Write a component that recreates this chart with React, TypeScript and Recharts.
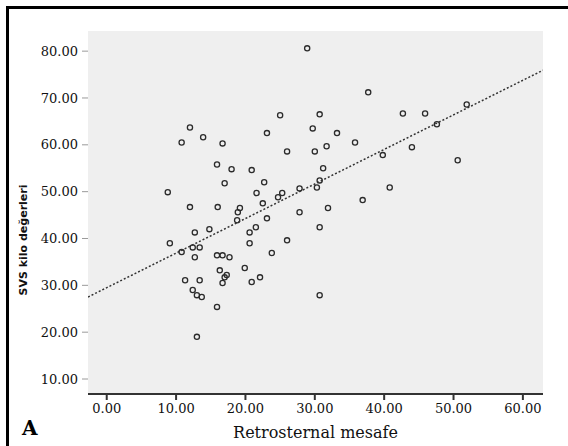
import { ScatterChart, Scatter, XAxis, YAxis, CartesianGrid, Label } from 'recharts';

// Retrosternal mesafe (x) and matching SVS values (y), one entry per subject
const retrosternal = [
  28.9, 37.7, 51.9, 42.7, 45.9, 47.6, 44.0, 39.8, 50.6, 40.8, 36.9, 25.0, 30.7,
  12.0, 13.9, 16.7, 10.8, 23.1, 29.7, 33.2, 35.8, 26.0, 30.0, 31.7, 15.9, 18.0,
  20.9, 31.2, 17.0, 22.7, 25.3, 30.7, 21.6, 8.8, 12.0, 16.0, 18.9, 24.7, 27.8,
  30.3, 31.9, 19.2, 22.5, 23.1, 27.8, 30.7, 18.8, 20.6, 20.6, 26.0, 23.8, 16.7,
  17.7, 16.3, 17.0, 19.9, 16.7, 20.9, 22.1, 13.4, 13.0, 13.7, 15.9, 13.0, 30.7,
  9.1, 10.8, 12.4, 12.7, 11.3, 12.4, 13.4, 15.9, 17.3, 12.7, 14.8, 21.5,
];
const svsValues = [
  80.6, 71.2, 68.6, 66.7, 66.7, 64.4, 59.5, 57.8, 56.7, 50.9, 48.2, 66.3, 66.5,
  63.7, 61.6, 60.3, 60.5, 62.5, 63.5, 62.5, 60.5, 58.6, 58.6, 59.7, 55.8, 54.8,
  54.6, 55.0, 51.8, 52.0, 49.7, 52.4, 49.7, 49.9, 46.7, 46.7, 45.6, 48.8, 50.7,
  50.9, 46.5, 46.5, 47.5, 44.3, 45.6, 42.4, 43.9, 41.3, 39.0, 39.6, 36.9, 36.4,
  36.0, 33.2, 31.7, 33.7, 30.5, 30.7, 31.7, 31.1, 27.9, 27.5, 25.4, 19.0, 27.9,
  39.0, 37.1, 38.1, 36.0, 31.1, 29.0, 38.1, 36.4, 32.2, 41.3, 42.0, 42.4,
];

const xTicks = [0, 10, 20, 30, 40, 50, 60];
const yTicks = [10, 20, 30, 40, 50, 60, 70, 80];
const xDomain = [-2.7, 62.9];
const yDomain = [6.8, 84.3];

// linear fit: SVS = intercept + slope * mesafe
const fitIntercept = 29.5;
const fitSlope = 0.738;

const points = retrosternal.map((x, i) => ({ x, y: svsValues[i] }));
const fitLine = xDomain.map((x) => ({ x, y: fitIntercept + fitSlope * x }));

const fmt = (v: number) => v.toFixed(2);

const Ring = (props: any) => (
  <circle cx={props.cx} cy={props.cy} r={2.6} fill="none" stroke="#2b2b2b" strokeWidth={1.3} />
);

export default function App() {
  return (
    <div style={{ position: 'absolute', left: 0, top: 0, width: 568, height: 446, background: '#fff', overflow: 'hidden' }}>
      <div style={{ position: 'absolute', left: 6, top: 6, width: 600, height: 500, borderLeft: '3px solid #000', borderTop: '3px solid #000' }} />
      <ScatterChart width={568} height={446} margin={{ top: 31, right: 25, bottom: 22, left: 0 }} style={{ position: 'absolute', left: 0, top: 0 }}>
        <CartesianGrid fill="#efefef" horizontal={false} vertical={false} />
        <XAxis
          type="number"
          dataKey="x"
          domain={xDomain}
          ticks={xTicks}
          tickFormatter={fmt}
          allowDataOverflow
          height={30}
          tickSize={6}
          tickMargin={4}
          stroke="#333"
          strokeWidth={2}
          tick={{ fill: '#111', fontSize: 13, fontFamily: 'DejaVu Serif' }}
        >
          <Label
            value="Retrosternal mesafe"
            position="insideBottom"
            offset={-14}
            style={{ fill: '#111', fontSize: 16, fontFamily: 'DejaVu Serif' }}
          />
        </XAxis>
        <XAxis xAxisId="top" orientation="top" type="number" domain={xDomain} height={0} tick={false} tickLine={false} stroke="#a0a0a0" strokeWidth={2} />
        <YAxis
          type="number"
          dataKey="y"
          domain={yDomain}
          ticks={yTicks}
          tickFormatter={fmt}
          allowDataOverflow
          width={88}
          axisLine={false}
          tickSize={6}
          tickMargin={4}
          tickLine={{ stroke: '#9a9a9a' }}
          tick={{ fill: '#111', fontSize: 13, fontFamily: 'DejaVu Serif' }}
        >
          <Label
            content={() => (
              <text
                x={23}
                y={240}
                transform="rotate(-90 23 240)"
                textAnchor="middle"
                dominantBaseline="central"
                fontSize={11}
                fontWeight="bold"
                fontFamily="DejaVu Sans"
                fill="#111"
              >
                SVS kilo değerleri
              </text>
            )}
          />
        </YAxis>
        <YAxis yAxisId="right" orientation="right" type="number" domain={yDomain} width={0} tick={false} tickLine={false} stroke="#444" strokeWidth={2} />
        <Scatter data={points} shape={<Ring />} isAnimationActive={false} />
        <Scatter
          data={fitLine}
          line={{ stroke: '#333', strokeWidth: 1.5, strokeDasharray: '2 2' }}
          shape={() => null}
          isAnimationActive={false}
        />
      </ScatterChart>
      <div style={{ position: 'absolute', left: 22, top: 416, fontFamily: 'DejaVu Serif', fontWeight: 'bold', fontSize: 20, color: '#000' }}>
        A
      </div>
    </div>
  );
}
